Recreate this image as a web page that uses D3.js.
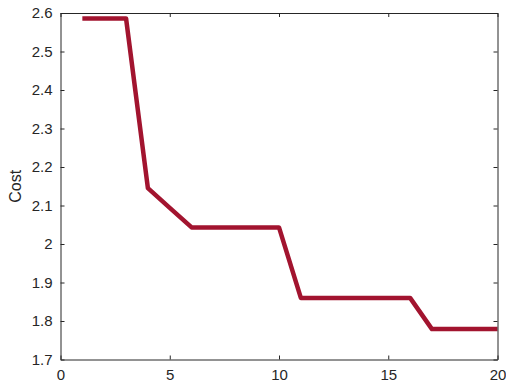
<!DOCTYPE html>
<html><head><meta charset="utf-8">
<script src="https://cdn.jsdelivr.net/npm/d3@7"></script>
<style>body{margin:0;background:#fff}svg{display:block}</style>
</head><body>
<svg id="c" width="506" height="386"></svg>
<script>
const iterations = [1,2,3,4,5,6,7,8,9,10,11,12,13,14,15,16,17,18,19,20];
const cost = [2.586,2.586,2.586,2.145,2.094,2.043,2.043,2.043,2.043,2.043,1.860,1.860,1.860,1.860,1.860,1.860,1.779,1.779,1.779,1.779];
const xTicks = [0,5,10,15,20];
const yTicks = [1.7,1.8,1.9,2,2.1,2.2,2.3,2.4,2.5,2.6];
const yLabel = "Cost";

const svg = d3.select("#c");
const L=60.5, R=497.5, T=13, B=359.5;
const x = d3.scaleLinear().domain([0,20]).range([L,R]);
const y = d3.scaleLinear().domain([1.7,2.6]).range([B,T]);
const ax = "#262626", font = "Liberation Sans, Arial, sans-serif";

svg.append("path")
  .datum(iterations.map((d,i)=>[d,cost[i]]))
  .attr("d", d3.line().x(d=>x(d[0])).y(d=>y(d[1])))
  .attr("fill","none").attr("stroke","#A2142F").attr("stroke-width",4.5)
  .attr("stroke-linejoin","round");

const xb = svg.append("g").attr("transform",`translate(0,${B})`)
  .call(d3.axisBottom(x).tickValues(xTicks).tickFormat(d3.format("d")).tickSizeInner(-4).tickSizeOuter(0).tickPadding(7));
const xt = svg.append("g").attr("transform",`translate(0,${T})`)
  .call(d3.axisTop(x).tickValues(xTicks).tickSizeInner(-4).tickSizeOuter(0).tickFormat(""));
const yl = svg.append("g").attr("transform",`translate(${L},0)`)
  .call(d3.axisLeft(y).tickValues(yTicks).tickFormat(d=>d3.format("")(+d.toFixed(1))).tickSizeInner(-4).tickSizeOuter(0).tickPadding(8));
const yr = svg.append("g").attr("transform",`translate(${R},0)`)
  .call(d3.axisRight(y).tickValues(yTicks).tickSizeInner(-4).tickSizeOuter(0).tickFormat(""));
[xb,xt,yl,yr].forEach(g=>{
  g.selectAll("path,line").attr("stroke",ax).attr("stroke-width",1);
  g.selectAll("text").attr("fill",ax).attr("font-family",font).attr("font-size",15);
});
xb.selectAll("text").attr("dy","0.9em");
svg.append("text").attr("transform",`translate(21,${(T+B)/2}) rotate(-90)`)
  .attr("text-anchor","middle").attr("font-family",font).attr("font-size",16).attr("fill",ax).text(yLabel);
</script>
</body></html>
